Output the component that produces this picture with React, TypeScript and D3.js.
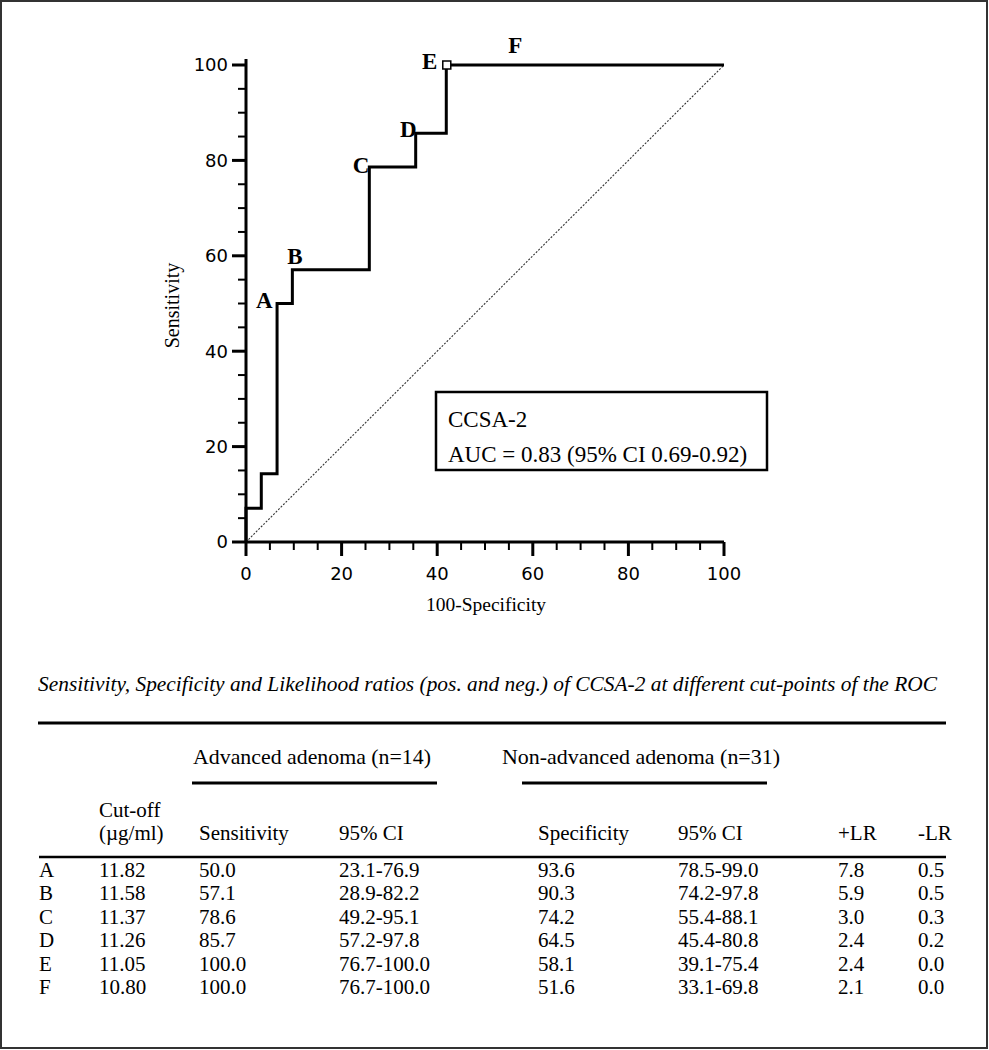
import React from 'react';
import * as d3 from 'd3';

const W = 989;
const H = 1050;

// ROC curve vertices (step-before: vertical jump first, then horizontal run)
const rocFpr = [0, 3.2, 6.5, 9.7, 25.8, 35.5, 41.9, 100];
const rocTpr = [0, 7.1, 14.3, 50.0, 57.1, 78.6, 85.7, 100];

// Table data
const pointLabels = ['A', 'B', 'C', 'D', 'E', 'F'];
const cutoffs = ['11.82', '11.58', '11.37', '11.26', '11.05', '10.80'];
const sensitivity = [50.0, 57.1, 78.6, 85.7, 100.0, 100.0];
const sensCI = ['23.1-76.9', '28.9-82.2', '49.2-95.1', '57.2-97.8', '76.7-100.0', '76.7-100.0'];
const specificity = [93.6, 90.3, 74.2, 64.5, 58.1, 51.6];
const specCI = ['78.5-99.0', '74.2-97.8', '55.4-88.1', '45.4-80.8', '39.1-75.4', '33.1-69.8'];
const posLR = [7.8, 5.9, 3.0, 2.4, 2.4, 2.1];
const negLR = [0.5, 0.5, 0.3, 0.2, 0.0, 0.0];

const majorTicks = [0, 20, 40, 60, 80, 100];
const minorTicks = d3.range(0, 101, 5).filter((v) => v % 20 !== 0);

const legendLines = ['CCSA-2', 'AUC = 0.83 (95% CI 0.69-0.92)'];
const caption = 'Sensitivity, Specificity and Likelihood ratios (pos. and neg.) of CCSA-2 at different cut-points of the ROC';
const groupHeaders = ['Advanced adenoma (n=14)', 'Non-advanced adenoma (n=31)'];
const colHeaders = ['Sensitivity', '95% CI', 'Specificity', '95% CI', '+LR', '-LR'];

// label placement relative to ROC points (layout only)
const labelLayout: Record<string, { anchor: string; dx: number; dy: number }> = {
  A: { anchor: 'end', dx: -4, dy: 4 },
  B: { anchor: 'start', dx: -5, dy: -6 },
  C: { anchor: 'end', dx: 0, dy: 6 },
  D: { anchor: 'end', dx: 1, dy: 4 },
  E: { anchor: 'end', dx: -9, dy: 4 },
  F: { anchor: 'start', dx: 31, dy: -12 },
};

const SERIF = '"Liberation Serif", "Times New Roman", serif';
const SANS = '"DejaVu Sans", Verdana, sans-serif';

export default function App() {
  const x = d3.scaleLinear().domain([0, 100]).range([246, 724]);
  const y = d3.scaleLinear().domain([0, 100]).range([542, 65]);

  const rocPts: [number, number][] = rocFpr.map((f, i) => [f, rocTpr[i]]);
  const rocPath = d3
    .line<[number, number]>()
    .x((d) => x(d[0]))
    .y((d) => y(d[1]))
    .curve(d3.curveStepBefore)(rocPts) as string;

  const diag = d3
    .line<[number, number]>()
    .x((d) => x(d[0]))
    .y((d) => y(d[1]))([
    [0, 0],
    [100, 100],
  ]) as string;

  const rowY = d3.scalePoint<string>().domain(pointLabels).range([877, 994]);

  const colX = {
    label: 39,
    cutoff: 99,
    sens: 199,
    sensCI: 339,
    spec: 538,
    specCI: 678,
    pos: 838,
    neg: 918,
  };
  const headerX = [colX.sens, colX.sensCI, colX.spec, colX.specCI, colX.pos, colX.neg];

  const E = 4; // index of E point
  const eX = x(100 - specificity[E]);
  const eY = y(sensitivity[E]);

  return (
    <svg
      width={W}
      height={H}
      style={{ position: 'absolute', left: 0, top: 0, background: '#fff' }}
    >
      <rect x={0} y={0} width={W} height={H} fill="#fff" />
      <rect x={1} y={1} width={W - 3} height={H - 3} fill="none" stroke="#333" strokeWidth={2} />

      {/* diagonal reference */}
      <path d={diag} fill="none" stroke="#333" strokeWidth={1.1} strokeDasharray="2,1.5" />

      {/* axes */}
      <line x1={x(0)} x2={x(100)} y1={y(0)} y2={y(0)} stroke="#000" strokeWidth={3} />
      <line x1={x(0)} x2={x(0)} y1={y(0)} y2={y(100) - 6} stroke="#000" strokeWidth={3} />
      {majorTicks.map((t) => (
        <g key={'mx' + t}>
          <line x1={x(t)} x2={x(t)} y1={y(0)} y2={y(0) + 14} stroke="#000" strokeWidth={3} />
          <text x={x(t)} y={580} textAnchor="middle" fontFamily={SANS} fontSize={18}>
            {t}
          </text>
          <line x1={x(0) - 14} x2={x(0)} y1={y(t)} y2={y(t)} stroke="#000" strokeWidth={3} />
          <text x={228} y={y(t)} dy="0.36em" textAnchor="end" fontFamily={SANS} fontSize={18}>
            {t}
          </text>
        </g>
      ))}
      {minorTicks.map((t) => (
        <g key={'mn' + t}>
          <line x1={x(t)} x2={x(t)} y1={y(0)} y2={y(0) + 8} stroke="#000" strokeWidth={2} />
          <line x1={x(0) - 8} x2={x(0)} y1={y(t)} y2={y(t)} stroke="#000" strokeWidth={2} />
        </g>
      ))}
      <text
        transform={`translate(179,${(y(0) + y(100)) / 2 + 2}) rotate(-90)`}
        textAnchor="middle"
        fontFamily={SERIF}
        fontSize={20}
      >
        Sensitivity
      </text>
      <text x={486} y={611} textAnchor="middle" fontFamily={SERIF} fontSize={19.5}>
        100-Specificity
      </text>

      {/* ROC curve */}
      <path d={rocPath} fill="none" stroke="#000" strokeWidth={3} strokeLinejoin="miter" />
      <rect x={eX - 3.5} y={eY - 4} width={8} height={8} fill="#fff" stroke="#000" strokeWidth={1.5} />

      {pointLabels.map((p, i) => {
        const l = labelLayout[p];
        return (
          <text
            key={p}
            x={x(100 - specificity[i]) + l.dx}
            y={y(sensitivity[i]) + l.dy}
            textAnchor={l.anchor}
            fontFamily={SERIF}
            fontWeight="bold"
            fontSize={23}
          >
            {p}
          </text>
        );
      })}

      {/* legend box */}
      <rect x={436} y={392} width={331} height={78} fill="#fff" stroke="#000" strokeWidth={2.5} />
      {legendLines.map((s, i) => (
        <text key={s} x={448} y={427 + i * 35} fontFamily={SERIF} fontSize={23}>
          {s}
        </text>
      ))}

      {/* table */}
      <text
        x={38}
        y={691}
        fontFamily={SERIF}
        fontStyle="italic"
        fontSize={21}
        textLength={899}
        lengthAdjust="spacingAndGlyphs"
      >
        {caption}
      </text>
      <line x1={38} x2={946} y1={723} y2={723} stroke="#000" strokeWidth={3} />

      <text x={193} y={764} fontFamily={SERIF} fontSize={21} textLength={238} lengthAdjust="spacingAndGlyphs">
        {groupHeaders[0]}
      </text>
      <text x={502} y={764} fontFamily={SERIF} fontSize={21} textLength={278} lengthAdjust="spacingAndGlyphs">
        {groupHeaders[1]}
      </text>
      <line x1={192} x2={437} y1={783} y2={783} stroke="#000" strokeWidth={3} />
      <line x1={522} x2={767} y1={783} y2={783} stroke="#000" strokeWidth={3} />

      <text x={colX.cutoff} y={817} fontFamily={SERIF} fontSize={21}>
        Cut-off
      </text>
      <text x={colX.cutoff} y={840} fontFamily={SERIF} fontSize={21}>
        (µg/ml)
      </text>
      {colHeaders.map((h, i) => (
        <text key={h + i} x={headerX[i]} y={840} fontFamily={SERIF} fontSize={21}>
          {h}
        </text>
      ))}
      <line x1={39} x2={946} y1={857} y2={857} stroke="#000" strokeWidth={2.5} />

      {pointLabels.map((p, i) => {
        const yy = rowY(p) as number;
        const cells = [
          [colX.label, p],
          [colX.cutoff, cutoffs[i]],
          [colX.sens, sensitivity[i].toFixed(1)],
          [colX.sensCI, sensCI[i]],
          [colX.spec, specificity[i].toFixed(1)],
          [colX.specCI, specCI[i]],
          [colX.pos, posLR[i].toFixed(1)],
          [colX.neg, negLR[i].toFixed(1)],
        ] as [number, string][];
        return (
          <g key={'row' + p}>
            {cells.map(([cx, s], j) => (
              <text key={j} x={cx} y={yy} fontFamily={SERIF} fontSize={21}>
                {s}
              </text>
            ))}
          </g>
        );
      })}
    </svg>
  );
}
